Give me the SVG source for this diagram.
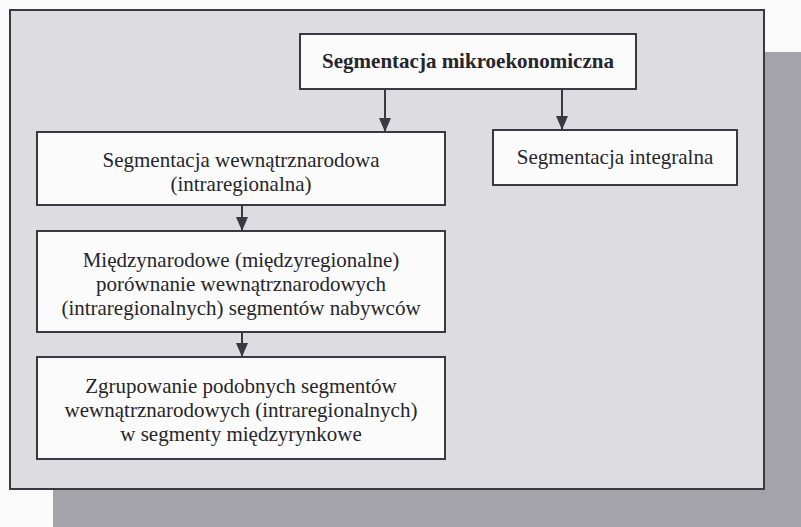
<svg xmlns="http://www.w3.org/2000/svg" width="801" height="527" viewBox="0 0 801 527">
<defs>
<marker id="ah" viewBox="0 0 14 12" refX="14" refY="6" markerWidth="14" markerHeight="12" markerUnits="userSpaceOnUse" orient="auto">
<path d="M0,0 L14,6 L0,12 Z" fill="#3a3840"/>
</marker>
</defs>
<style>
.box{fill:#fbfbfc;stroke:#3a3840;stroke-width:2}
.t{font-family:"Liberation Serif","Times New Roman",serif;font-size:21px;fill:#26262a;text-anchor:middle}
.b{font-weight:bold}
.c{stroke:#3a3840;stroke-width:2;fill:none}
</style>
<rect x="0" y="0" width="801" height="527" fill="#fafafa"/>
<rect x="53" y="52" width="748" height="475" fill="#a3a3a9"/>
<rect x="10" y="10" width="754" height="479" fill="#dcdce1" stroke="#3a3840" stroke-width="2"/>
<g id="connectors">
<line class="c" x1="385" y1="89" x2="385" y2="132" marker-end="url(#ah)"/>
<line class="c" x1="562" y1="89" x2="562" y2="130" marker-end="url(#ah)"/>
<line class="c" x1="242" y1="205" x2="242" y2="231" marker-end="url(#ah)"/>
<line class="c" x1="242" y1="332" x2="242" y2="357" marker-end="url(#ah)"/>
</g>
<g id="n1">
<rect class="box" x="300" y="34" width="336" height="55"/>
<text class="t b" x="468" y="68">Segmentacja mikroekonomiczna</text>
</g>
<g id="n2">
<rect class="box" x="37" y="132" width="408" height="73"/>
<text class="t" x="241" y="167">Segmentacja wewnątrznarodowa</text>
<text class="t" x="241" y="191">(intraregionalna)</text>
</g>
<g id="n3">
<rect class="box" x="493" y="130" width="244" height="55"/>
<text class="t" x="615" y="164">Segmentacja integralna</text>
</g>
<g id="n4">
<rect class="box" x="37" y="231" width="408" height="101"/>
<text class="t" x="241" y="267">Międzynarodowe (międzyregionalne)</text>
<text class="t" x="241" y="291">porównanie wewnątrznarodowych</text>
<text class="t" x="241" y="315">(intraregionalnych) segmentów nabywców</text>
</g>
<g id="n5">
<rect class="box" x="37" y="357" width="408" height="102"/>
<text class="t" x="241" y="393">Zgrupowanie podobnych segmentów</text>
<text class="t" x="241" y="417">wewnątrznarodowych (intraregionalnych)</text>
<text class="t" x="241" y="441">w segmenty międzyrynkowe</text>
</g>
</svg>
